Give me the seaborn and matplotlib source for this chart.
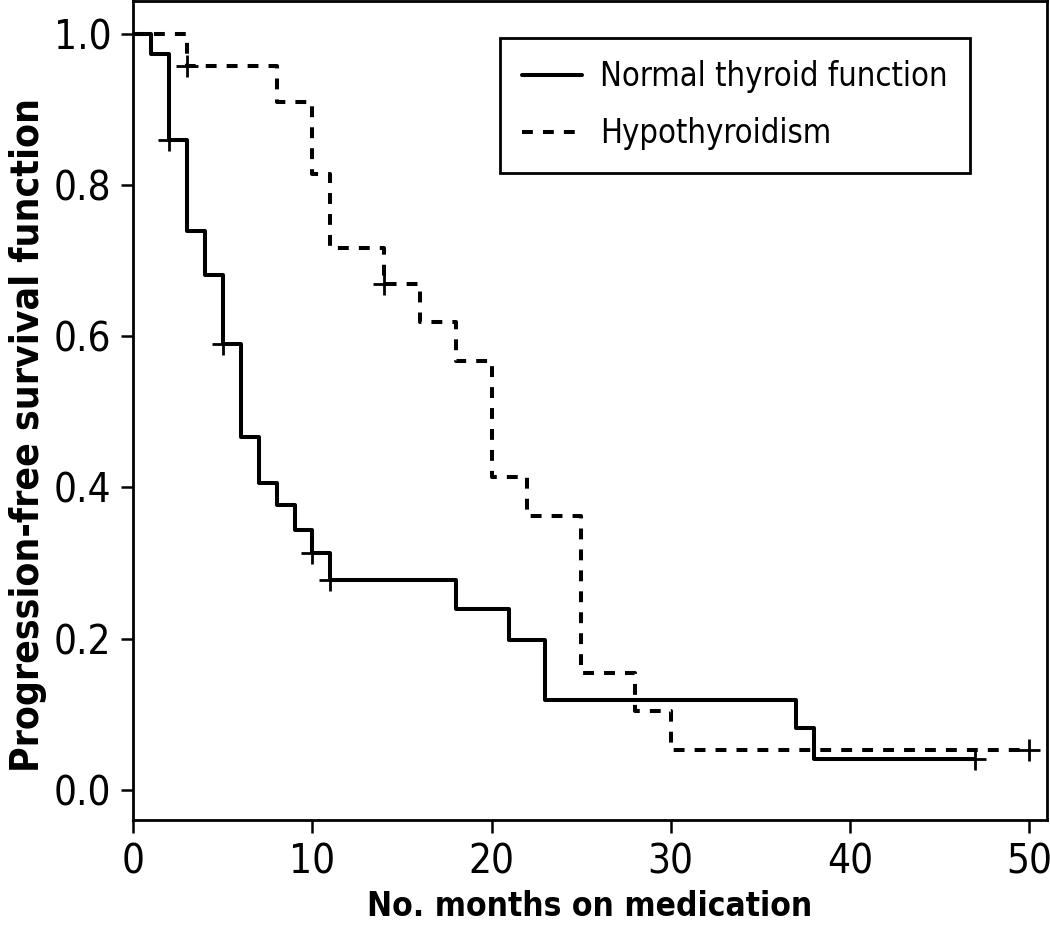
import os
import numpy as np
import pandas as pd
import matplotlib
matplotlib.use("Agg")
import matplotlib.pyplot as plt
from matplotlib import font_manager
import seaborn as sns

# =============================================================================
# Data
# =============================================================================
NORMAL_LABEL = "Normal thyroid function"
HYPO_LABEL = "Hypothyroidism"

normal_months = [0, 1, 2, 3, 4, 5, 6, 7, 8, 9, 10, 11, 18, 21, 23, 37, 38, 47]
normal_surv = [1.0, 0.974, 0.86, 0.74, 0.681, 0.59, 0.467, 0.406, 0.377,
               0.344, 0.313, 0.278, 0.239, 0.198, 0.119, 0.081, 0.041, 0.041]
normal_censor_months = [2, 5, 10, 11, 47]
normal_censor_surv = [0.86, 0.59, 0.313, 0.278, 0.041]

hypo_months = [0, 3, 8, 10, 11, 14, 16, 18, 20, 22, 25, 28, 30, 50]
hypo_surv = [1.0, 0.958, 0.91, 0.815, 0.717, 0.669, 0.619, 0.567, 0.414,
             0.362, 0.155, 0.104, 0.052, 0.052]
hypo_censor_months = [3, 14, 50]
hypo_censor_surv = [0.958, 0.669, 0.052]

x_ticks = [0, 10, 20, 30, 40, 50]
y_ticks = [0.0, 0.2, 0.4, 0.6, 0.8, 1.0]


# =============================================================================
# Font: the original uses a condensed grotesque, take the narrowest we have
# =============================================================================
def pick_font(candidates, fallback_family, weight):
    files = {os.path.basename(p): p for p in font_manager.findSystemFonts()}
    for name in candidates:
        if name in files:
            return font_manager.FontProperties(fname=files[name])
    return font_manager.FontProperties(family=fallback_family, weight=weight)


REGULAR = pick_font(["LiberationSansNarrow-Regular.ttf", "DejaVuSansCondensed.ttf",
                     "RobotoCondensed-Regular.ttf", "LiberationSans-Regular.ttf"],
                    "Liberation Sans", "normal")
BOLD = pick_font(["LiberationSansNarrow-Bold.ttf", "DejaVuSansCondensed-Bold.ttf",
                  "RobotoCondensed-Bold.ttf", "LiberationSans-Bold.ttf"],
                 "Liberation Sans", "bold")


def fp(base, size):
    p = base.copy()
    p.set_size(size)
    return p


# =============================================================================
# Plot
# =============================================================================
sns.set_style("ticks")
plt.rcParams["font.family"] = ["Liberation Sans", "DejaVu Sans"]
plt.rcParams["text.color"] = "black"
plt.rcParams["axes.labelcolor"] = "black"

curves = pd.concat([
    pd.DataFrame({"month": normal_months, "surv": normal_surv, "group": NORMAL_LABEL}),
    pd.DataFrame({"month": hypo_months, "surv": hypo_surv, "group": HYPO_LABEL}),
], ignore_index=True)

censors = pd.concat([
    pd.DataFrame({"month": normal_censor_months, "surv": normal_censor_surv, "group": NORMAL_LABEL}),
    pd.DataFrame({"month": hypo_censor_months, "surv": hypo_censor_surv, "group": HYPO_LABEL}),
], ignore_index=True)

fig = plt.figure(figsize=(10.5, 9.38), dpi=100)
ax = fig.add_axes([0.127, 0.126, 0.870, 0.873])

sns.lineplot(
    data=curves, x="month", y="surv", style="group",
    style_order=[NORMAL_LABEL, HYPO_LABEL],
    dashes={NORMAL_LABEL: "", HYPO_LABEL: (2.7, 2.5)},
    color="black", linewidth=2.9, estimator=None, sort=False,
    drawstyle="steps-post", ax=ax,
)

# censoring marks
sns.scatterplot(
    data=censors, x="month", y="surv", marker="+", color="black",
    s=260, linewidth=2.0, legend=False, ax=ax, zorder=5,
)

ax.set_xlim(0, 51)
ax.set_ylim(-0.04, 1.044)
ax.set_xticks(x_ticks)
ax.set_yticks(y_ticks)
ax.set_xticklabels([str(v) for v in x_ticks], fontproperties=fp(REGULAR, 29))
ax.set_yticklabels([f"{v:.1f}" for v in y_ticks], fontproperties=fp(REGULAR, 29))

for side in ["top", "right", "bottom", "left"]:
    ax.spines[side].set_visible(True)
    ax.spines[side].set_linewidth(2.0)
    ax.spines[side].set_color("black")

ax.tick_params(axis="both", direction="out", length=9, width=1.8,
               colors="black", labelcolor="black", pad=7)

ax.set_xlabel("No. months on medication", fontproperties=fp(BOLD, 24), color="black")
ax.set_ylabel("Progression-free survival function", fontproperties=fp(BOLD, 28), color="black")
ax.xaxis.set_label_coords(0.5, -0.086)
ax.yaxis.set_label_coords(-0.095, 0.47)

leg = ax.legend(loc="upper right", bbox_to_anchor=(0.916, 0.955), prop=fp(REGULAR, 23.5),
                frameon=True, fancybox=False, edgecolor="black", borderaxespad=0,
                handlelength=1.85, handletextpad=0.55, borderpad=0.68,
                labelspacing=0.75)
leg.get_frame().set_linewidth(2.0)
leg.get_frame().set_alpha(1.0)
for line in leg.get_lines():
    line.set_linewidth(2.9)
for txt in leg.get_texts():
    txt.set_color("black")

fig.savefig("out.png", dpi=100)
